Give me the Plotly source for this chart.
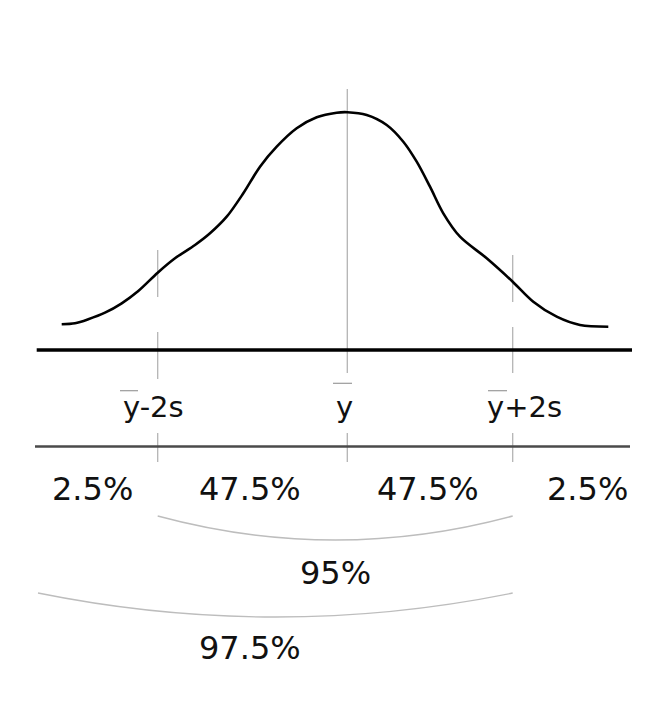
import plotly.graph_objects as go

# ---- data (horizontal units, height above the baseline) ----
curve_x = [61.7, 75.0, 88.3, 105.0, 121.7, 138.3, 157.7, 175.0, 195.0, 210.0, 226.7,
           243.3, 260.0, 276.7, 296.7, 316.7, 336.7, 347.5, 366.7, 386.7, 403.3, 416.7,
           430.0, 443.3, 460.0, 486.7, 512.7, 533.3, 556.7, 580.0, 608.3]
curve_h = [25.7, 26.7, 30.7, 37.3, 46.7, 59.0, 77.3, 91.7, 105.0, 116.7, 133.3,
           156.7, 183.3, 203.3, 221.7, 232.7, 237.3, 237.8, 235.0, 225.0, 208.3, 188.3,
           163.3, 136.7, 113.3, 91.7, 68.3, 48.3, 33.3, 25.0, 23.3]

mark_x = [157.7, 347.3, 512.7]          # ybar-2s, ybar, ybar+2s
mark_labels = ["y-2s", "y", "y+2s"]
mark_label_x = [153.5, 344.0, 524.0]

pct_labels = ["2.5%", "47.5%", "47.5%", "2.5%"]
pct_x = [92.0, 250.0, 428.0, 587.0]

bracket_labels = ["95%", "97.5%"]
bracket_label_x = [335.0, 250.0]
bracket_from = [157.7, 38.0]
bracket_to = [512.7, 512.7]

BASE = 350  # pixel row of the baseline, used to convert to heights


def h(ypx):
    return BASE - ypx


fig = go.Figure()

fig.add_trace(go.Scatter(x=curve_x, y=curve_h, mode="lines",
                         line=dict(color="#000000", width=2.6, shape="spline", smoothing=0.9),
                         hoverinfo="skip", showlegend=False))

shapes = []
grey = "#b4b4b4"
# vertical guide segments
seg_left = [(250, 297), (332, 379), (433, 462)]
seg_mid = [(89, 373), (433, 462)]
seg_right = [(255, 302), (327, 373), (433, 462)]
for xv, segs in zip(mark_x, [seg_left, seg_mid, seg_right]):
    for a, b in segs:
        shapes.append(dict(type="line", xref="x", yref="y", x0=xv, x1=xv, y0=h(a), y1=h(b),
                           line=dict(color=grey, width=1.3), layer="below"))

# baseline and lower rule
shapes.append(dict(type="line", xref="x", yref="y", x0=36.7, x1=632, y0=h(350), y1=h(350),
                   line=dict(color="#000000", width=3.4)))
shapes.append(dict(type="line", xref="x", yref="y", x0=35, x1=630, y0=h(446.5), y1=h(446.5),
                   line=dict(color="#4a4a4a", width=2.4)))

# overbars on the y labels
overbars = [(120, 138, 390.7), (333, 352, 383.3), (488, 507, 390.7)]
for a, b, yy in overbars:
    shapes.append(dict(type="line", xref="x", yref="y", x0=a, x1=b, y0=h(yy), y1=h(yy),
                       line=dict(color="#9a9a9a", width=1.2)))

# brackets (arcs)
arc_end_y = [516, 593]
arc_mid_y = [540, 617]
for x0, x1, ye, ym in zip(bracket_from, bracket_to, arc_end_y, arc_mid_y):
    cy = (4 * ym - 2 * ye) / 2
    cx = (x0 + x1) / 2
    path = f"M {x0},{h(ye)} Q {cx},{h(cy)} {x1},{h(ye)}"
    shapes.append(dict(type="path", xref="x", yref="y", path=path,
                       line=dict(color="#bdbdbd", width=1.3)))

annotations = []
font_lbl = dict(family="DejaVu Sans", size=29, color="#111111")
font_pct = dict(family="DejaVu Sans", size=32, color="#111111")
for t, xv in zip(mark_labels, mark_label_x):
    annotations.append(dict(x=xv, y=h(407), text=t, showarrow=False, xanchor="center",
                            yanchor="middle", font=font_lbl))
for t, xv in zip(pct_labels, pct_x):
    annotations.append(dict(x=xv, y=h(488.5), text=t, showarrow=False, xanchor="center",
                            yanchor="middle", font=font_pct))
for t, xv, yy in zip(bracket_labels, bracket_label_x, [573, 648]):
    annotations.append(dict(x=xv, y=h(yy), text=t, showarrow=False, xanchor="center",
                            yanchor="middle", font=font_pct))

fig.update_layout(
    width=669, height=721,
    margin=dict(l=0, r=0, t=0, b=0),
    paper_bgcolor="#ffffff", plot_bgcolor="#ffffff",
    xaxis=dict(range=[0, 669], visible=False, fixedrange=True),
    yaxis=dict(range=[h(721), h(0)], visible=False, fixedrange=True),
    shapes=shapes, annotations=annotations, showlegend=False,
)

fig.write_html("out.html", config={"displayModeBar": False},
               post_script="document.body.style.margin='0px';document.body.style.overflow='hidden';")
